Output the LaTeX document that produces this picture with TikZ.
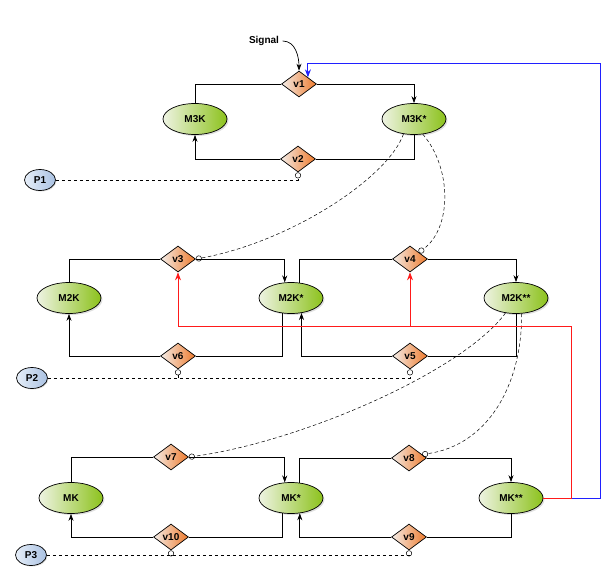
\documentclass[tikz,border=0pt]{standalone}
\usepackage{fontspec}
\setsansfont{Liberation Sans}
\usetikzlibrary{positioning,shapes.geometric,arrows.meta,shadows}
\definecolor{kinlight}{HTML}{EEF3E2}
\definecolor{kindark}{HTML}{8CC21C}
\definecolor{vlight}{HTML}{F4EDE8}
\definecolor{vdark}{HTML}{EE7A2C}
\definecolor{plight}{HTML}{E6EEF8}
\definecolor{pdark}{HTML}{A9C1E2}
\definecolor{fbr}{HTML}{FF1A1A}
\definecolor{fbb}{HTML}{2020FF}

\begin{document}
\begin{tikzpicture}[x=1pt,y=-1pt,
font=\sffamily\bfseries\fontsize{10}{11}\selectfont,
line width=0.7pt,
comp/.style={draw,ellipse,minimum width=64pt,minimum height=31pt,inner sep=0pt,
    left color=kinlight,right color=kindark,
    drop shadow={opacity=0.25,shadow xshift=1.5pt,shadow yshift=-1.5pt}},
valve/.style={draw,diamond,minimum width=35pt,minimum height=26pt,inner sep=0pt,
    left color=vlight,right color=vdark},
param/.style={draw,ellipse,minimum width=31pt,minimum height=21pt,inner sep=0pt,
    left color=plight,right color=pdark,
    drop shadow={opacity=0.25,shadow xshift=1pt,shadow yshift=-1pt}},
flow/.style={-{Stealth[length=7pt,width=5pt]}},
fb/.style={line width=0.9pt,-{Stealth[length=8pt,width=6pt]}},
ctrl/.style={dashed,dash pattern=on 3.5pt off 2.5pt,line width=0.5pt,-{Circle[open,length=6pt,width=6pt]}}]
\useasboundingbox (0,0) rectangle (608,576);

% level 1
\node (sig) at (264,41) {Signal};
\node[valve] (v1) at (299,84) {v1};
\node[comp] (m3k) at (195,119) {M3K};
\node[comp] (m3ks) at (414,119) {M3K*};
\node[valve] (v2) at (298,159) {v2};
\node[param] (p1) at (40,180) {P1};

% level 2
\node[valve] (v3) at (178,259) {v3};
\node[valve] (v4) at (410,259) {v4};
\node[comp] (m2k) at (69,298) {M2K};
\node[comp] (m2ks) at (291,298) {M2K*};
\node[comp] (m2kss) at (516,298) {M2K**};
\node[valve] (v6) at (178,356) {v6};
\node[valve] (v5) at (410,356) {v5};
\node[param] (p2) at (32,378) {P2};

% level 3
\node[valve] (v7) at (171,457) {v7};
\node[valve] (v8) at (409,458) {v8};
\node[comp] (mk) at (71,498) {MK};
\node[comp] (mks) at (291,498) {MK*};
\node[comp] (mkss) at (511,498) {MK**};
\node[valve] (v10) at (171,537) {v10};
\node[valve] (v9) at (409,537) {v9};
\node[param] (p3) at (31,555) {P3};

\coordinate (fbred) at (571,326);
\coordinate (fbblue) at (600,63);

% cycles
\draw[flow] (sig.east) to[out=0,in=90] (v1.north);
\draw (m3k.north) |- (v1.west);
\draw[flow] (v1.east) -| (m3ks.north);
\draw (m3ks.south) |- (v2.east);
\draw[flow] (v2.west) -| (m3k.south);

\draw (m2k.north) |- (v3.west);
\draw[flow] (v3.east) -| (m2ks.112);
\draw (m2ks.60) |- (v4.west);
\draw[flow] (v4.east) -| (m2kss.north);
\draw (m2kss.south) |- (v5.east);
\draw[flow] (v5.west) -| (m2ks.305);
\draw (m2ks.242) |- (v6.east);
\draw[flow] (v6.west) -| (m2k.south);

\draw (mk.north) |- (v7.west);
\draw[flow] (v7.east) -| (mks.112);
\draw (mks.60) |- (v8.west);
\draw[flow] (v8.east) -| (mkss.north);
\draw (mkss.south) |- (v9.east);
\draw[flow] (v9.west) -| (mks.300);
\draw (mks.240) |- (v10.east);
\draw[flow] (v10.west) -| (mk.south);

% phosphatases
\draw[ctrl] (p1.east) -| (v2.south);
\draw[ctrl] (p2.east) -| (v5.south);
\draw[ctrl] (v6.south |- p2.east) -- (v6.south);
\draw[ctrl] (p3.east) -| (v9.south);
\draw[ctrl] (v10.south |- p3.east) -- (v10.south);

% activation by the level above
\draw[ctrl] (m3ks.235) .. controls (388,178) and (290,242) .. (v3.east);
\draw[ctrl] (m3ks.300) .. controls (452,168) and (452,228) .. (v4.north east);
\draw[ctrl] (m2kss.235) .. controls (462,372) and (300,442) .. (v7.east);
\draw[ctrl] (m2kss.290) .. controls (522,385) and (488,445) .. (v8.15);

% feedback
\draw[fbb,fb] (mkss.east) -| (fbblue) -| (v1.north east);
\draw[fbr,fb] (mkss.east) -| (fbred) -| (v3.south);
\draw[fbr,fb] (v4.south |- fbred) -- (v4.south);
\end{tikzpicture}
\end{document}
